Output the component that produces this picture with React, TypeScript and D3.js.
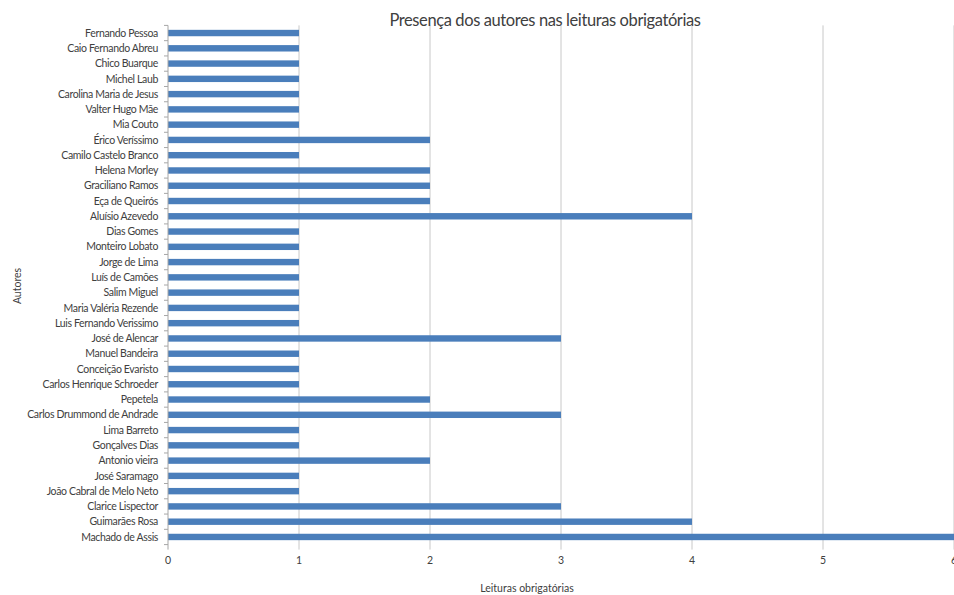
import React, { useEffect, useRef } from 'react';
import * as d3 from 'd3';

const authors = [
  'Fernando Pessoa', 'Caio Fernando Abreu', 'Chico Buarque', 'Michel Laub',
  'Carolina Maria de Jesus', 'Valter Hugo Mãe', 'Mia Couto', 'Érico Veríssimo',
  'Camilo Castelo Branco', 'Helena Morley', 'Graciliano Ramos', 'Eça de Queirós',
  'Aluísio Azevedo', 'Dias Gomes', 'Monteiro Lobato', 'Jorge de Lima',
  'Luís de Camões', 'Salim Miguel', 'Maria Valéria Rezende', 'Luis Fernando Verissimo',
  'José de Alencar', 'Manuel Bandeira', 'Conceição Evaristo', 'Carlos Henrique Schroeder',
  'Pepetela', 'Carlos Drummond de Andrade', 'Lima Barreto', 'Gonçalves Dias',
  'Antonio vieira', 'José Saramago', 'João Cabral de Melo Neto', 'Clarice Lispector',
  'Guimarães Rosa', 'Machado de Assis',
];

const readings = [
  1, 1, 1, 1,
  1, 1, 1, 2,
  1, 2, 2, 2,
  4, 1, 1, 1,
  1, 1, 1, 1,
  3, 1, 1, 1,
  2, 3, 1, 1,
  2, 1, 1, 3,
  4, 6,
];

const xTicks = [0, 1, 2, 3, 4, 5, 6];

const title = 'Presença dos autores nas leituras obrigatórias';
const xTitle = 'Leituras obrigatórias';
const yTitle = 'Autores';

const App: React.FC = () => {
  const svgRef = useRef<SVGSVGElement>(null);

  useEffect(() => {
    if (!svgRef.current) return;
    const svg = d3.select(svgRef.current);
    svg.selectAll('*').remove();

    const width = 954;
    const height = 595;
    const left = 168;
    const right = 954;
    const top = 25.4;
    const bottom = 544.6;
    const font = 'Lato, "Open Sans", sans-serif';
    const textColor = '#404040';

    const x = d3.scaleLinear().domain([0, 6]).range([left, right]);
    const y = d3.scaleBand<string>().domain(authors).range([top, bottom]).paddingInner(0.58).paddingOuter(0.29);

    svg.attr('width', width).attr('height', height);

    // gridlines
    svg.append('g')
      .selectAll('line')
      .data(xTicks.filter((t) => t > 0))
      .enter()
      .append('line')
      .attr('x1', (d) => x(d))
      .attr('x2', (d) => x(d))
      .attr('y1', top)
      .attr('y2', bottom + 5)
      .attr('stroke', '#c8c8c8')
      .attr('stroke-width', 1);

    // bars
    svg.append('g')
      .selectAll('rect')
      .data(authors.map((a, i) => ({ a, v: readings[i] })))
      .enter()
      .append('rect')
      .attr('x', x(0))
      .attr('y', (d) => y(d.a)!)
      .attr('width', (d) => x(d.v) - x(0))
      .attr('height', y.bandwidth())
      .attr('fill', '#4a7ebb');

    // y axis line and ticks
    svg.append('line')
      .attr('x1', left).attr('x2', left)
      .attr('y1', top).attr('y2', bottom + 5)
      .attr('stroke', '#a6a6a6');

    const step = y.step();
    svg.append('g')
      .selectAll('line')
      .data(d3.range(authors.length + 1))
      .enter()
      .append('line')
      .attr('x1', left - 4)
      .attr('x2', left)
      .attr('y1', (i) => top + i * step)
      .attr('y2', (i) => top + i * step)
      .attr('stroke', '#a6a6a6');

    // y labels
    svg.append('g')
      .selectAll('text')
      .data(authors)
      .enter()
      .append('text')
      .attr('x', left - 10)
      .attr('y', (d) => y(d)! + y.bandwidth() / 2)
      .attr('dy', '0.35em')
      .attr('text-anchor', 'end')
      .attr('font-family', font)
      .attr('font-size', 10.5)
      .attr('letter-spacing', -0.35)
      .attr('fill', textColor)
      .text((d) => d);

    // x tick labels
    svg.append('g')
      .selectAll('text')
      .data(xTicks)
      .enter()
      .append('text')
      .attr('x', (d) => x(d))
      .attr('y', 564)
      .attr('text-anchor', 'middle')
      .attr('font-family', font)
      .attr('font-size', 10.5)
      .attr('fill', textColor)
      .text((d) => d);

    // titles
    svg.append('text')
      .attr('x', 545)
      .attr('y', 26)
      .attr('text-anchor', 'middle')
      .attr('font-family', font)
      .attr('font-size', 16.5)
      .attr('letter-spacing', -0.4)
      .attr('fill', textColor)
      .text(title);

    svg.append('text')
      .attr('x', 527)
      .attr('y', 592)
      .attr('text-anchor', 'middle')
      .attr('font-family', font)
      .attr('font-size', 10.5)
      .attr('fill', textColor)
      .text(xTitle);

    svg.append('text')
      .attr('transform', 'translate(21, 286) rotate(-90)')
      .attr('text-anchor', 'middle')
      .attr('font-family', font)
      .attr('font-size', 10.5)
      .attr('fill', textColor)
      .text(yTitle);
  }, []);

  return (
    <svg ref={svgRef} style={{ position: 'absolute', left: 0, top: 0, background: '#fff' }}></svg>
  );
};

export default App;
